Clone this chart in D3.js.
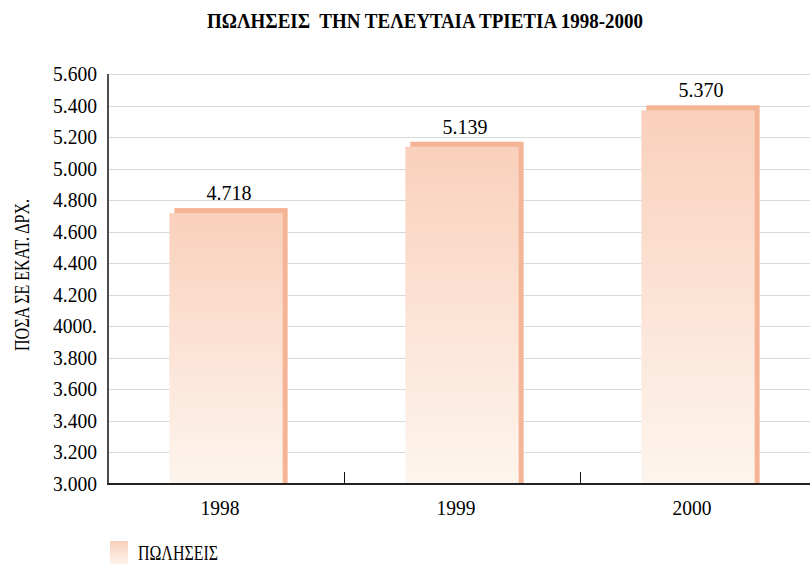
<!DOCTYPE html>
<html>
<head>
<meta charset="utf-8">
<script src="https://cdn.jsdelivr.net/npm/d3@7"></script>
<style>
  body { margin: 0; background: #fff; }
  svg { display: block; font-family: "Liberation Serif", "DejaVu Serif", serif; }
</style>
</head>
<body>
<svg id="chart" width="810" height="564"></svg>
<script>
// data
var years = ["1998", "1999", "2000"];
var sales = [4718, 5139, 5370];
var valueLabels = ["4.718", "5.139", "5.370"];
var yTicks = [3000, 3200, 3400, 3600, 3800, 4000, 4200, 4400, 4600, 4800, 5000, 5200, 5400, 5600];
var yTickLabels = ["3.000", "3.200", "3.400", "3.600", "3.800", "4000.", "4.200", "4.400", "4.600", "4.800", "5.000", "5.200", "5.400", "5.600"];

var svg = d3.select("#chart");
// plot edges (note: "top" is reserved on window, so use other names)
var plotLeft = 108, plotRight = 816, plotTop = 74, plotBottom = 484;

var x = d3.scaleBand().domain(years).range([plotLeft, plotRight]);
var y = d3.scaleLinear().domain([3000, 5600]).range([plotBottom, plotTop]);

// gradient for bar fronts
var defs = svg.append("defs");
var grad = defs.append("linearGradient").attr("id", "barGrad")
  .attr("x1", 0).attr("y1", 0).attr("x2", 0).attr("y2", 1);
grad.append("stop").attr("offset", "0%").attr("stop-color", "#f9d0bc");
grad.append("stop").attr("offset", "50%").attr("stop-color", "#fce3d5");
grad.append("stop").attr("offset", "100%").attr("stop-color", "#fdf5ee");

// title (keeps the double space of the original)
svg.append("text")
  .attr("x", 425).attr("y", 28)
  .attr("text-anchor", "middle")
  .style("white-space", "pre")
  .attr("font-size", 21).attr("font-weight", "bold")
  .attr("textLength", 436).attr("lengthAdjust", "spacingAndGlyphs")
  .text("ΠΩΛΗΣΕΙΣ  ΤΗΝ ΤΕΛΕΥΤΑΙΑ ΤΡΙΕΤΙΑ 1998-2000");

// gridlines
svg.append("g").selectAll("line")
  .data(yTicks.slice(1))
  .enter().append("line")
  .attr("x1", plotLeft).attr("x2", 810)
  .attr("y1", function(d) { return Math.round(y(d)) + 0.5; })
  .attr("y2", function(d) { return Math.round(y(d)) + 0.5; })
  .attr("stroke", "#d9d9d9").attr("stroke-width", 1);

// y tick labels
svg.append("g").selectAll("text")
  .data(yTicks)
  .enter().append("text")
  .attr("x", 97)
  .attr("y", function(d) { return y(d) + 7; })
  .attr("text-anchor", "end")
  .attr("font-size", 22)
  .attr("textLength", 44).attr("lengthAdjust", "spacingAndGlyphs")
  .text(function(d, i) { return yTickLabels[i]; });

// y title
svg.append("text")
  .attr("transform", "translate(29,275) rotate(-90)")
  .attr("text-anchor", "middle")
  .attr("font-size", 20)
  .attr("textLength", 152).attr("lengthAdjust", "spacingAndGlyphs")
  .text("ΠΟΣΑ ΣΕ ΕΚΑΤ. ΔΡΧ.");

// bars: darker back slab offset up-right, gradient front
var bw = x.bandwidth() * 0.48;
var off = 5;
var bars = svg.append("g").selectAll("g")
  .data(sales)
  .enter().append("g");

bars.append("rect")
  .attr("x", function(d, i) { return x(years[i]) + x.bandwidth() / 2 - bw / 2 + off; })
  .attr("y", function(d) { return y(d) - off; })
  .attr("width", bw)
  .attr("height", function(d) { return plotBottom - y(d) + off; })
  .attr("fill", "#f5b496");

bars.append("rect")
  .attr("x", function(d, i) { return x(years[i]) + x.bandwidth() / 2 - bw / 2; })
  .attr("y", function(d) { return y(d); })
  .attr("width", bw)
  .attr("height", function(d) { return plotBottom - y(d); })
  .attr("fill", "url(#barGrad)");

bars.append("text")
  .attr("x", function(d, i) { return x(years[i]) + x.bandwidth() / 2 + 3; })
  .attr("y", function(d) { return y(d) - off - 8; })
  .attr("text-anchor", "middle")
  .attr("font-size", 22)
  .attr("textLength", 45).attr("lengthAdjust", "spacingAndGlyphs")
  .text(function(d, i) { return valueLabels[i]; });

// axis lines
svg.append("line")
  .attr("x1", plotLeft).attr("x2", plotLeft).attr("y1", plotTop).attr("y2", plotBottom + 1)
  .attr("stroke", "#4d4d4d").attr("stroke-width", 2);
svg.append("line")
  .attr("x1", plotLeft - 1).attr("x2", 810).attr("y1", plotBottom).attr("y2", plotBottom)
  .attr("stroke", "#222").attr("stroke-width", 2);

// category separator ticks
svg.append("g").selectAll("line")
  .data(years.slice(1))
  .enter().append("line")
  .attr("x1", function(d) { return Math.round(x(d)) + 0.5; })
  .attr("x2", function(d) { return Math.round(x(d)) + 0.5; })
  .attr("y1", plotBottom).attr("y2", plotBottom - 12)
  .attr("stroke", "#111").attr("stroke-width", 1);

// x labels
svg.append("g").selectAll("text")
  .data(years)
  .enter().append("text")
  .attr("x", function(d) { return x(d) + x.bandwidth() / 2 - 6; })
  .attr("y", 515)
  .attr("text-anchor", "middle")
  .attr("font-size", 22)
  .attr("textLength", 39).attr("lengthAdjust", "spacingAndGlyphs")
  .text(function(d) { return d; });

// legend
var lg = defs.append("linearGradient").attr("id", "legGrad")
  .attr("x1", 0).attr("y1", 0).attr("x2", 0).attr("y2", 1);
lg.append("stop").attr("offset", "0%").attr("stop-color", "#f9cfbb");
lg.append("stop").attr("offset", "100%").attr("stop-color", "#fdf3ec");
svg.append("rect")
  .attr("x", 110).attr("y", 541).attr("width", 18).attr("height", 23)
  .attr("fill", "url(#legGrad)");
svg.append("text")
  .attr("x", 138).attr("y", 560)
  .attr("font-size", 20)
  .attr("textLength", 80).attr("lengthAdjust", "spacingAndGlyphs")
  .text("ΠΩΛΗΣΕΙΣ");
</script>
</body>
</html>
